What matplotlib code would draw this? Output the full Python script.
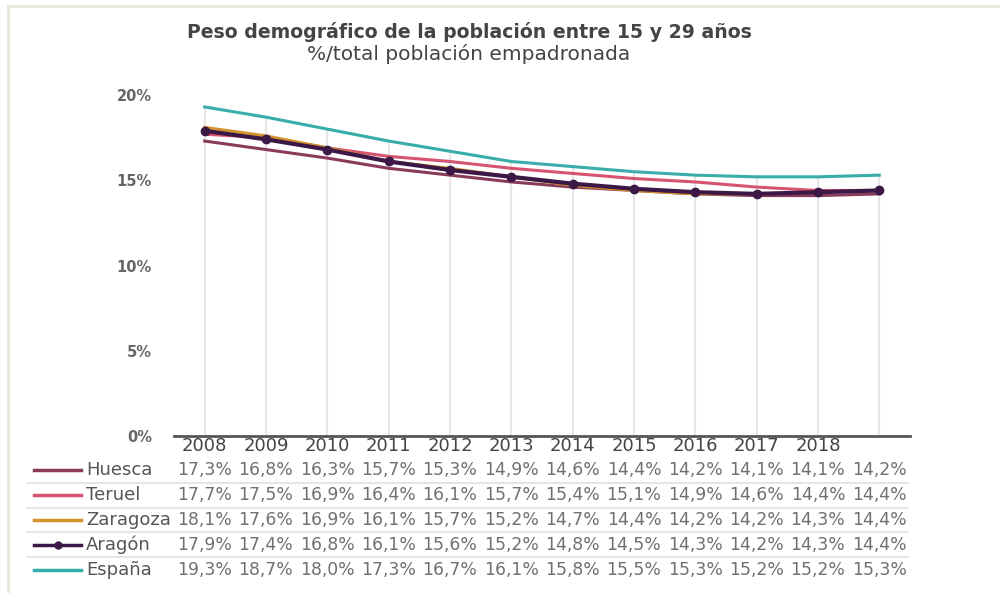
import matplotlib.pyplot as plt
import matplotlib.transforms as mtransforms
from matplotlib.lines import Line2D
import numpy as np

plt.rcParams['font.family'] = ['DejaVu Sans']

years = ['2008', '2009', '2010', '2011', '2012', '2013', '2014', '2015', '2016', '2017', '2018', '']
huesca = [17.3, 16.8, 16.3, 15.7, 15.3, 14.9, 14.6, 14.4, 14.2, 14.1, 14.1, 14.2]
teruel = [17.7, 17.5, 16.9, 16.4, 16.1, 15.7, 15.4, 15.1, 14.9, 14.6, 14.4, 14.4]
zaragoza = [18.1, 17.6, 16.9, 16.1, 15.7, 15.2, 14.7, 14.4, 14.2, 14.2, 14.3, 14.4]
aragon = [17.9, 17.4, 16.8, 16.1, 15.6, 15.2, 14.8, 14.5, 14.3, 14.2, 14.3, 14.4]
espana = [19.3, 18.7, 18.0, 17.3, 16.7, 16.1, 15.8, 15.5, 15.3, 15.2, 15.2, 15.3]

series = [
    ('Huesca', huesca, '#8a3b5c', None),
    ('Teruel', teruel, '#d6546f', None),
    ('Zaragoza', zaragoza, '#d4922c', None),
    ('Aragón', aragon, '#3b1846', 'o'),
    ('España', espana, '#38ada9', None),
]

fig = plt.figure(figsize=(10, 5.93), dpi=100)
ax = fig.add_axes([0.174, 1 - 436 / 593, 0.736, (436 - 95) / 593])

x = np.arange(len(years))

# drop lines from 0 up to the highest series at each year
tops = np.max([s[1] for s in series], axis=0)
ax.vlines(x, 0, tops, color='#e6e6e6', lw=1.5, zorder=1)

draw_order = [4, 0, 1, 2, 3]
for i in draw_order:
    name, vals, col, mk = series[i]
    lw = 3 if mk else 2.2
    ax.plot(x, vals, color=col, lw=lw, marker=mk, ms=6, zorder=3 + i)

ax.set_xlim(-0.5, 11.5)
ax.set_ylim(0, 20)
ax.set_yticks([0, 5, 10, 15, 20])
ax.set_yticklabels(['0%', '5%', '10%', '15%', '20%'], fontweight='bold',
                   color='#666666', fontsize=10.5)
ax.tick_params(axis='y', length=0, pad=16)
ax.set_xticks(x)
ax.set_xticklabels(years, fontsize=13, color='#444444')
ax.tick_params(axis='x', length=0, pad=1)
for s in ['top', 'right', 'left']:
    ax.spines[s].set_visible(False)
ax.spines['bottom'].set_color('#555555')
ax.spines['bottom'].set_linewidth(2)

# titles
fig.text(0.469, 1 - 32 / 593, 'Peso demográfico de la población entre 15 y 29 años',
         ha='center', va='center', fontsize=13.6, fontweight='bold', color='#444444')
fig.text(0.469, 1 - 54 / 593, '%/total población empadronada',
         ha='center', va='center', fontsize=14.5, color='#444444')

# data table below the chart
trans = mtransforms.blended_transform_factory(ax.transData, fig.transFigure)
row_y = [470, 495, 520, 545, 570]
for (name, vals, col, mk), py in zip(series, row_y):
    yf = 1 - py / 593
    fig.add_artist(Line2D([34 / 1000, 81 / 1000], [yf, yf], color=col, lw=2.5,
                          transform=fig.transFigure))
    if mk:
        fig.add_artist(Line2D([57.5 / 1000], [yf], color=col, marker='o', ms=5,
                              transform=fig.transFigure))
    fig.text(86 / 1000, yf, name, ha='left', va='center', fontsize=13, color='#555555')
    for xi, v in zip(x, vals):
        ax.text(xi, yf, f'{v:.1f}%'.replace('.', ','), transform=trans,
                ha='center', va='center', fontsize=12.4, color='#707070')

for py in [483, 508, 532, 557]:
    yf = 1 - py / 593
    fig.add_artist(Line2D([27 / 1000, 908 / 1000], [yf, yf], color='#e0e0e0', lw=1.2,
                          transform=fig.transFigure))

# frame lines
fig.add_artist(Line2D([8 / 1000, 1], [1 - 6 / 593, 1 - 6 / 593], color='#ebe6db', lw=2,
                      transform=fig.transFigure))
fig.add_artist(Line2D([8 / 1000, 8 / 1000], [0, 1 - 6 / 593], color='#ebe6db', lw=2,
                      transform=fig.transFigure))

fig.savefig('out.png', dpi=100)
